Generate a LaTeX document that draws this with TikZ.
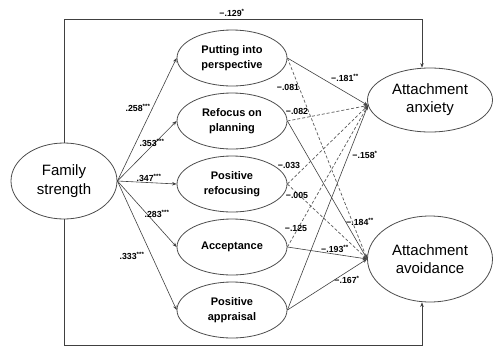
\documentclass[tikz,border=0pt]{standalone}
\usepackage{fontspec}
\setmainfont{Liberation Sans}
\usetikzlibrary{shapes.geometric,arrows.meta}

\begin{document}
\begin{tikzpicture}[x=1pt, y=-1pt,
    >={Stealth[length=4.5pt,width=3.5pt]},
    latent/.style={draw=black!70, ellipse, inner sep=0pt, align=center, line width=0.8pt},
    medbox/.style={latent, minimum width=110pt, minimum height=56pt, font=\fontsize{11}{15}\selectfont\bfseries},
    outbox/.style={latent, minimum width=125pt, font=\fontsize{15}{18}\selectfont},
    sigpath/.style={->, draw=black!75, line width=0.6pt},
    nspath/.style={sigpath, draw=black!65, line width=0.7pt, dash pattern=on 3pt off 2pt},
    coef/.style={font=\fontsize{8.8}{10}\selectfont\bfseries, inner sep=0pt}]
    \useasboundingbox (0,0) rectangle (493,349);
    % latent variables
    \node[latent, minimum width=106pt, minimum height=76pt, font=\fontsize{15}{19}\selectfont] (fam) at (64,181) {Family\\strength};
    \node[medbox] (put) at (232,58) {Putting into\\perspective};
    \node[medbox] (refo) at (232,121) {Refocus on\\planning};
    \node[medbox] (posr) at (232,184) {Positive\\refocusing};
    \node[medbox] (acc) at (232,247) {Acceptance};
    \node[medbox] (appr) at (232,310) {Positive\\appraisal};
    \node[outbox, minimum height=64pt] (anx) at (430,100) {Attachment\\anxiety};
    \node[outbox, minimum height=86pt] (avo) at (430,259) {Attachment\\avoidance};
    % direct effects round the outside
    \coordinate (tl) at (64,19);
    \coordinate (tr) at (422,19);
    \coordinate (bl) at (64,345);
    \coordinate (br) at (422,345);
    \draw[sigpath] (fam.north) -- (tl) -- (tr) -- (tr |- anx.north);
    \draw[sigpath] (fam.south) -- (bl) -- (br) -- (br |- avo.south);
    % family strength to strategies
    \foreach \m in {put,refo,posr,acc,appr}
        \draw[sigpath] (fam.east) -- (\m.west);
    % strategies to outcomes
    \draw[sigpath] (put.east) -- (anx.185);
    \draw[nspath] (put.east) -- (avo.west);
    \draw[nspath] (refo.east) -- (anx.185);
    \draw[sigpath] (refo.east) -- (avo.west);
    \draw[nspath] (posr.east) -- (anx.185);
    \draw[nspath] (posr.east) -- (avo.west);
    \draw[nspath] (acc.east) -- (anx.185);
    \draw[sigpath] (acc.east) -- (avo.west);
    \draw[sigpath] (appr.east) -- (anx.185);
    \draw[sigpath] (appr.east) -- (avo.west);
    % coefficients
    \node[coef] (c1) at (232,13) {−.129\textsuperscript{*}};
    \node[coef] (c2) at (138,108) {.258\textsuperscript{***}};
    \node[coef] (c3) at (152,143) {.353\textsuperscript{***}};
    \node[coef] (c4) at (149,178) {.347\textsuperscript{***}};
    \node[coef] (c5) at (157,214) {.283\textsuperscript{***}};
    \node[coef] (c6) at (132,256) {.333\textsuperscript{***}};
    \node[coef] (c7) at (345,78) {−.181\textsuperscript{**}};
    \node[coef] (c8) at (288,87) {−.081};
    \node[coef] (c9) at (297,111) {−.082};
    \node[coef] (c10) at (365,155) {−.158\textsuperscript{*}};
    \node[coef] (c11) at (289,165) {−.033};
    \node[coef] (c12) at (297,195) {−.005};
    \node[coef] (c13) at (360,222) {−.184\textsuperscript{**}};
    \node[coef] (c14) at (296,228) {−.125};
    \node[coef] (c15) at (335,249) {−.193\textsuperscript{**}};
    \node[coef] (c16) at (347,280) {−.167\textsuperscript{*}};
\end{tikzpicture}
\end{document}
